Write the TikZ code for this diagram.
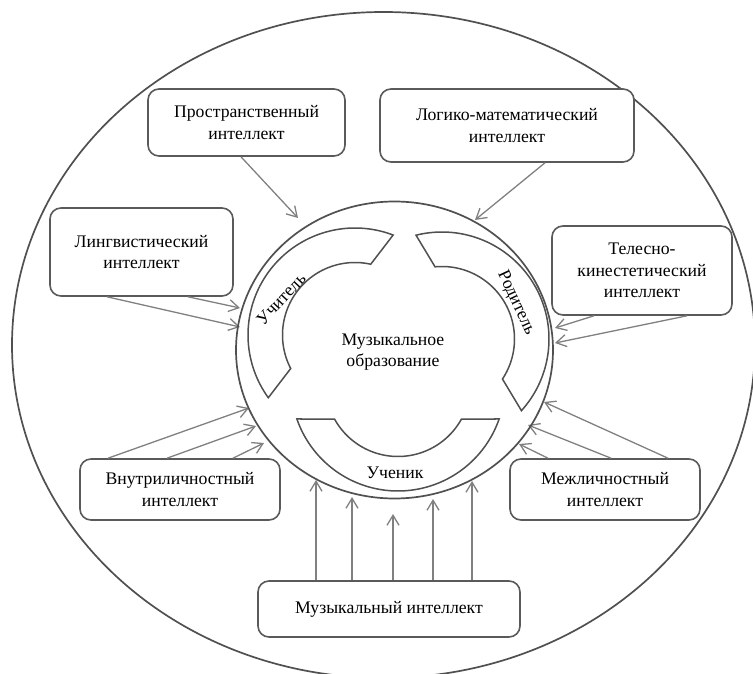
\documentclass[tikz,border=0pt]{standalone}
\usepackage{fontspec}
\setmainfont{Liberation Serif}
\usetikzlibrary{arrows.meta,shapes.geometric}
\definecolor{boxc}{HTML}{5A5A5A}
\definecolor{arrc}{HTML}{808080}
\definecolor{linec}{HTML}{505050}
\newcommand\mkblock[4]{%
  \pgfmathsetmacro\bo{acos(#4/107)}%
  \pgfmathsetmacro\bi{acos(#4/72.5)}%
  \pgfmathsetmacro\sa{#3-\bo}\pgfmathsetmacro\sb{#3+\bo}%
  \pgfmathsetmacro\sc{#3+\bi}\pgfmathsetmacro\sd{#3-\bi}%
  \draw[blk] plot[domain=\sa:\sb,samples=90] ({#1+107*cos(\x)},{#2+107*sin(\x)})
    -- plot[domain=\sc:\sd,samples=90] ({#1+72.5*cos(\x)},{#2+72.5*sin(\x)}) -- cycle;}
\tikzset{
  box/.style={draw=boxc, line width=1.6pt, rounded corners=11pt, fill=white,
    align=center, inner sep=0pt, font=\fontsize{17.7}{21.5}\selectfont},
  arr/.style={draw=arrc, line width=1.3pt,
    -{Straight Barb[length=10pt,width=12pt,line width=1.3pt]}},
  blk/.style={draw=linec, line width=1.5pt, fill=white, line join=miter},
  lbl/.style={font=\fontsize{17.7}{21}\selectfont, inner sep=0pt, align=center}
}
\begin{document}
\begin{tikzpicture}[x=1pt,y=-1pt]
\useasboundingbox (0,0) rectangle (753,674);
% outer ellipse
\draw[draw=linec, line width=1.7pt] (383.5,345) ellipse[x radius=371.5pt, y radius=333pt];

% arrow tips
\coordinate (t1) at (298,218);
\coordinate (t2) at (475,220);
\coordinate (t3) at (240,327);
\coordinate (t4) at (240,308);
\coordinate (t5) at (555,328);
\coordinate (t6) at (555,343);
\coordinate (t7) at (249,408);
\coordinate (t8) at (256,426);
\coordinate (t9) at (264,443);
\coordinate (t10) at (544,402);
\coordinate (t11) at (528,425);
\coordinate (t12) at (519,444);
\coordinate (t13) at (316,480);
\coordinate (t14) at (352,497);
\coordinate (t15) at (393,514);
\coordinate (t16) at (433,499);
\coordinate (t17) at (472,481);

% boxes
\node[box, minimum width=197pt, minimum height=67pt] (prost) at (246.5,122.5) {Пространственный\\интеллект};
\node[box, minimum width=254pt, minimum height=73pt] (logic) at (507,125.5) {Логико-математический\\интеллект};
\node[box, minimum width=183pt, minimum height=88pt] (ling) at (141.5,252) {Лингвистический\\интеллект};
\node[box, minimum width=180pt, minimum height=89pt] (teles) at (642,270.5) {Телесно-\\кинестетический\\интеллект};
\node[box, minimum width=200pt, minimum height=61pt] (vnut) at (180,489.5) {Внутриличностный\\интеллект};
\node[box, minimum width=190pt, minimum height=61pt] (mezh) at (605,489.5) {Межличностный\\интеллект};
\node[box, minimum width=262pt, minimum height=56pt] (muz) at (389,609) {Музыкальный интеллект};

% arrows
\draw[arr] ([xshift=-5.5pt]prost.south) -- (t1);
\draw[arr] ([xshift=38pt]logic.south) -- (t2);
\draw[arr] ([xshift=-34.5pt]ling.south) -- (t3);
\draw[arr] ([xshift=46.5pt]ling.south) -- (t4);
\draw[arr] ([xshift=-48pt]teles.south) -- (t5);
\draw[arr] ([xshift=45pt]teles.south) -- (t6);
\draw[arr] ([xshift=-72pt]vnut.north) -- (t7);
\draw[arr] ([xshift=-13pt]vnut.north) -- (t8);
\draw[arr] ([xshift=53pt]vnut.north) -- (t9);
\draw[arr] ([xshift=63pt]mezh.north) -- (t10);
\draw[arr] ([xshift=6pt]mezh.north) -- (t11);
\draw[arr] ([xshift=-57pt]mezh.north) -- (t12);
\draw[arr] ([xshift=-73pt]muz.north) -- (t13);
\draw[arr] ([xshift=-37pt]muz.north) -- (t14);
\draw[arr] ([xshift=4pt]muz.north) -- (t15);
\draw[arr] ([xshift=44pt]muz.north) -- (t16);
\draw[arr] ([xshift=83pt]muz.north) -- (t17);

% central circle
\node[draw=linec, line width=1.7pt, ellipse, minimum width=317pt, minimum height=297pt, inner sep=0pt] (edu) at (394.5,350) {};

% block arcs
\mkblock{355}{335}{217.5}{30.6}
\mkblock{442}{339}{329}{31.2}
\mkblock{398}{384}{90}{35}

% labels
\node[lbl] (edutxt) at (393,352) {Музыкальное\\образование};
\node[lbl, rotate=47] (uch) at (281,299) {Учитель};
\node[lbl, rotate=-65] (rod) at (516,303) {Родитель};
\node[lbl] (stud) at (395,473) {Ученик};
\end{tikzpicture}
\end{document}
